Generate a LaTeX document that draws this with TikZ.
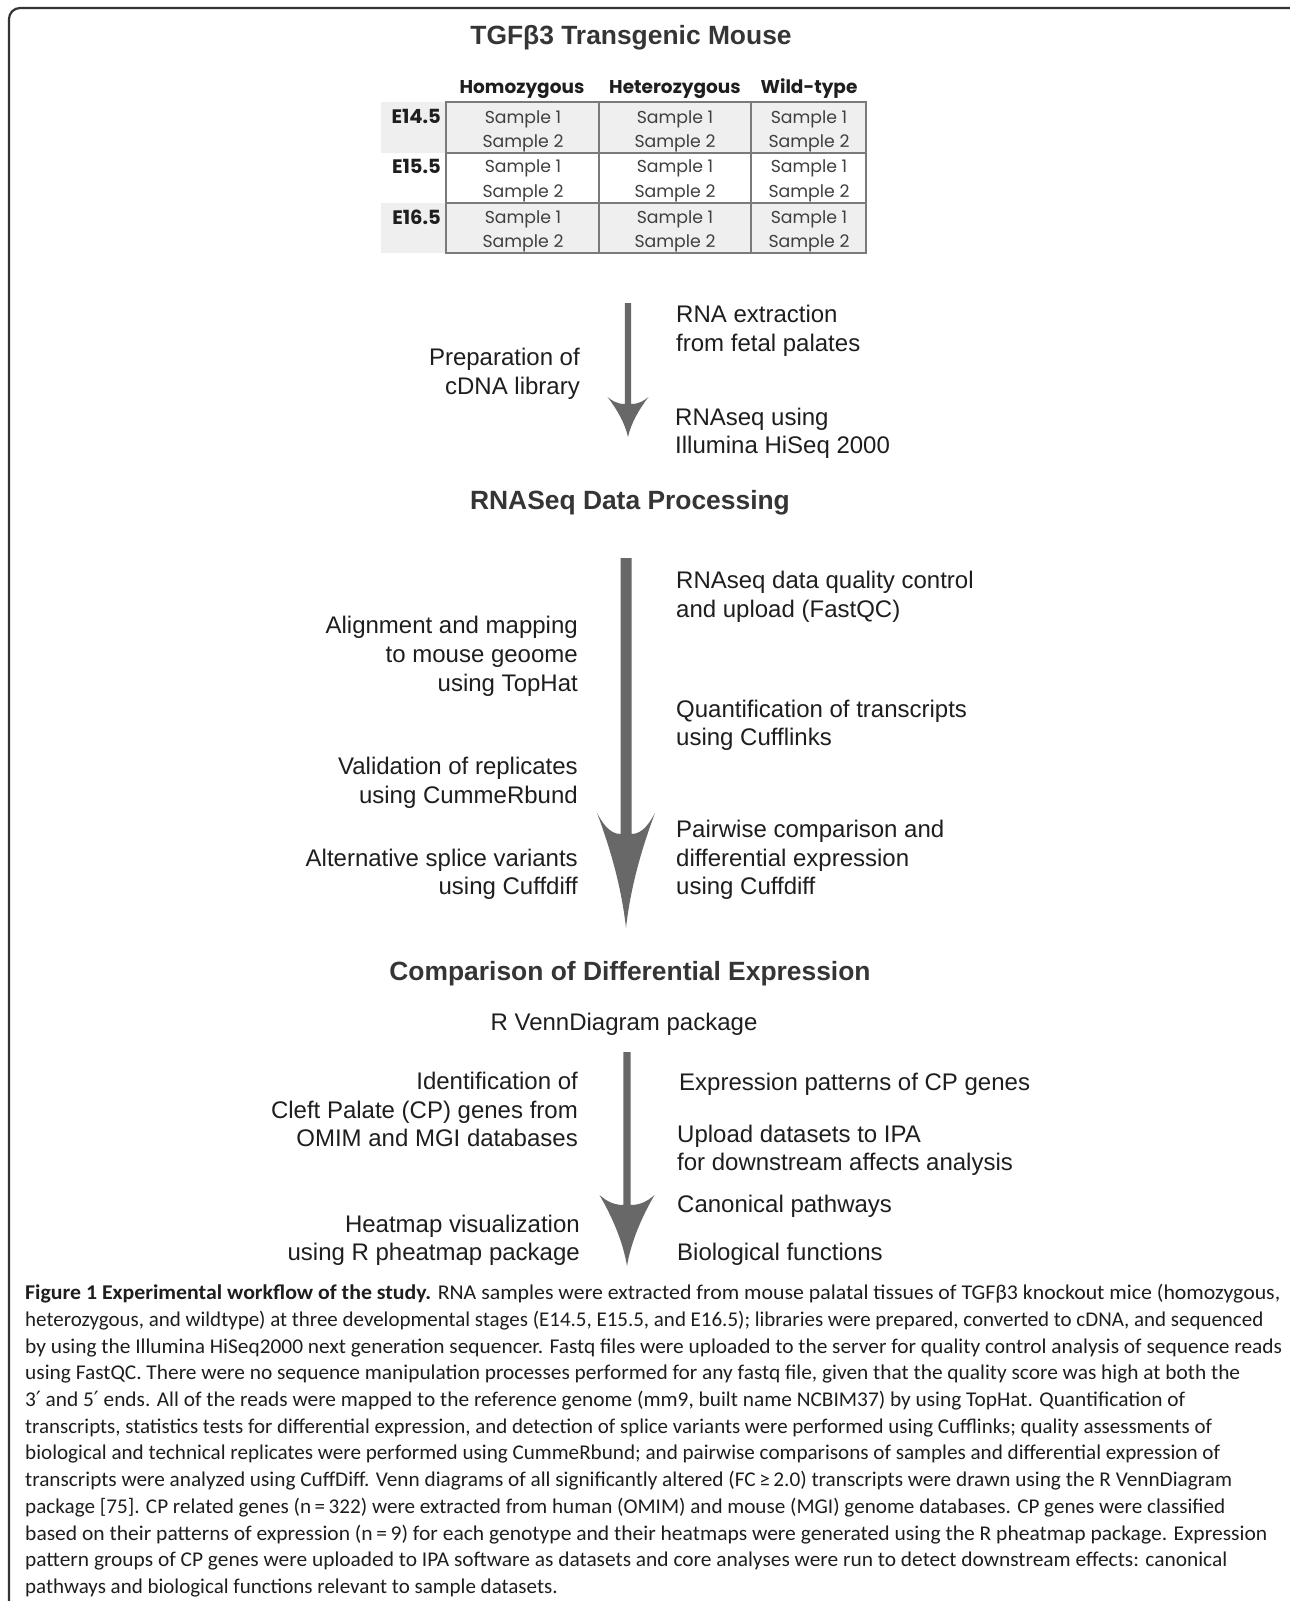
\documentclass[tikz,border=0pt]{standalone}
\usepackage{fontspec}
\setmainfont{Liberation Sans}
\newfontfamily\tabfont{Poppins}
\newfontfamily\capfont{Carlito}
\newfontfamily\primefont{DejaVu Sans}
\definecolor{ink}{HTML}{1E1E1E}
\definecolor{arrowgray}{HTML}{686868}
\definecolor{cellgray}{HTML}{EFEFEF}
\definecolor{gridgray}{HTML}{7A7A7A}
\newcommand{\fatarrow}[7]{% #1 cx, #2 top, #3 shaft half width, #4 barb y, #5 join y, #6 tip y, #7 head half width
  \fill[arrowgray] (#1-#3,#2) -- (#1+#3,#2) -- (#1+#3,#5)
    .. controls (#1+#3+0.5*#7-0.5*#3,#5) and (#1+0.8*#7+0.2*#3,#4+0.4*#5-0.4*#4) .. (#1+#7,#4)
    .. controls (#1+0.55*#7,#4+0.3*#6-0.3*#4) and (#1+0.15*#7,#6-0.35*#6+0.35*#4) .. (#1,#6)
    .. controls (#1-0.15*#7,#6-0.35*#6+0.35*#4) and (#1-0.55*#7,#4+0.3*#6-0.3*#4) .. (#1-#7,#4)
    .. controls (#1-0.8*#7-0.2*#3,#4+0.4*#5-0.4*#4) and (#1-#3-0.5*#7+0.5*#3,#5) .. (#1-#3,#5)
    -- cycle;}
\newcommand{\capline}[2]{\resizebox{#1pt}{\height}{#2}}
\newcommand{\prm}{{\primefont ′}}
\begin{document}
\begin{tikzpicture}[x=1pt,y=-1pt,
  txt/.style={inner sep=0pt, text=ink, font=\fontsize{24}{28}\selectfont, text height=17.2pt, text depth=0pt},
  lt/.style={txt, anchor=east},
  rt/.style={txt, anchor=west},
  hd/.style={inner sep=0pt, text=ink!90!white, font=\bfseries\fontsize{26.4}{30}\selectfont, text height=19pt, text depth=0pt},
  th/.style={inner sep=0pt, text=ink, font=\tabfont\bfseries\fontsize{18.5}{22}\selectfont, text height=12.8pt, text depth=0pt},
  rl/.style={inner sep=0pt, text=ink, anchor=east, font=\tabfont\bfseries\fontsize{19.5}{22}\selectfont, text height=13.5pt, text depth=0pt},
  tc/.style={inner sep=0pt, text=ink!85!white, font=\tabfont\fontsize{17.3}{20}\selectfont, text height=12pt, text depth=0pt},
  captxt/.style={inner sep=0pt, anchor=west, text=ink, font=\capfont\fontsize{21}{24}\selectfont, text height=13.5pt, text depth=0pt},
  framestyle/.style={draw=ink!90!white, line width=2.2pt, rounded corners=11pt},
  tabgrid/.style={draw=gridgray, line width=1.4pt}
]
\useasboundingbox (0,0) rectangle (1290,1601);
\fill[white] (0,0) rectangle (1290,1601);
% frame
\draw[framestyle] (9,1601) -- (9,8) -- (1290,8);

% ---------- title and table ----------
\node[hd] (title) at (631,35) {TGFβ3 Transgenic Mouse};

\fill[cellgray] (381,102) rectangle (866,153);
\fill[cellgray] (381,203) rectangle (866,253);
\draw[tabgrid] (446,102) rectangle (866,253);
\draw[tabgrid] (599,102) -- (599,253);
\draw[tabgrid] (751,102) -- (751,253);
\draw[tabgrid] (446,153) -- (866,153);
\draw[tabgrid] (446,203) -- (866,203);

\node[th] (hhom) at (522,87) {Homozygous};
\node[th] (hhet) at (675,87) {Heterozygous};
\node[th] (hwt)  at (809,87) {Wild-type};

\node[rl] (e145) at (441,117) {E14.5};
\node[rl] (e155) at (441,167) {E15.5};
\node[rl] (e165) at (441,218) {E16.5};

\foreach \r/\ya/\yb in {1/117/141, 2/166/191, 3/217/241} {
  \foreach \c/\xx in {1/523, 2/675, 3/809} {
    \node[tc] (s\r\c a) at (\xx,\ya) {Sample 1};
    \node[tc] (s\r\c b) at (\xx,\yb) {Sample 2};
  }
}

% ---------- arrow 1 ----------
\coordinate (a1top) at (628,303);
\coordinate (a1tip) at (628,437);
\fatarrow{628}{303}{3.2}{397}{404}{437}{20.5}

\node[lt] (prep1) at (580,357) {Preparation of};
\node[lt] (prep2) at (580,386) {cDNA library};
\node[rt] (rna1) at (676,314) {RNA extraction};
\node[rt] (rna2) at (676,343) {from fetal palates};
\node[rt] (seq1) at (675,417) {RNAseq using};
\node[rt] (seq2) at (675,445) {Illumina HiSeq 2000};

\node[hd] (proc) at (630,500) {RNASeq Data Processing};

% ---------- arrow 2 ----------
\coordinate (a2top) at (626,558);
\coordinate (a2tip) at (626,928);
\fatarrow{626}{558}{5.5}{813}{834}{928}{29}

\node[rt] (qc1) at (676,580) {RNAseq data quality control};
\node[rt] (qc2) at (676,609) {and upload (FastQC)};
\node[lt] (al1) at (578,625) {Alignment and mapping};
\node[lt] (al2) at (578,654) {to mouse geoome};
\node[lt] (al3) at (578,683) {using TopHat};
\node[rt] (qu1) at (676,709) {Quantification of transcripts};
\node[rt] (qu2) at (676,737) {using Cufflinks};
\node[lt] (va1) at (578,766) {Validation of replicates};
\node[lt] (va2) at (578,795) {using CummeRbund};
\node[rt] (pw1) at (676,829) {Pairwise comparison and};
\node[rt] (pw2) at (676,858) {differential expression};
\node[rt] (pw3) at (676,886) {using Cuffdiff};
\node[lt] (sp1) at (578,858) {Alternative splice variants};
\node[lt] (sp2) at (578,886) {using Cuffdiff};

\node[hd] (comp) at (630,971) {Comparison of Differential Expression};
\node[txt] (venn) at (624,1022) {R VennDiagram package};

% ---------- arrow 3 ----------
\coordinate (a3top) at (627,1052);
\coordinate (a3tip) at (627,1266);
\fatarrow{627}{1052}{3.7}{1195}{1205}{1266}{27.5}

\node[lt] (id1) at (578,1081) {Identification of};
\node[lt] (id2) at (578,1110) {Cleft Palate (CP) genes from};
\node[lt] (id3) at (578,1138) {OMIM and MGI databases};
\node[lt] (hm1) at (580,1224) {Heatmap visualization};
\node[lt] (hm2) at (580,1252) {using R pheatmap package};
\node[rt] (ex1) at (679,1082) {Expression patterns of CP genes};
\node[rt] (up1) at (677,1134) {Upload datasets to IPA};
\node[rt] (up2) at (677,1162) {for downstream affects analysis};
\node[rt] (can) at (677,1204) {Canonical pathways};
\node[rt] (bio) at (677,1252) {Biological functions};

% ---------- caption ----------
\node[captxt] (cap1) at (25,1293.0) {\capline{1255}{\textbf{Figure 1 Experimental workflow of the study.} RNA samples were extracted from mouse palatal tissues of TGFβ3 knockout mice (homozygous,}};
\node[captxt] (cap2) at (25,1319.7) {\capline{1238}{heterozygous, and wildtype) at three developmental stages (E14.5, E15.5, and E16.5); libraries were prepared, converted to cDNA, and sequenced}};
\node[captxt] (cap3) at (25,1346.4) {\capline{1257}{by using the Illumina HiSeq2000 next generation sequencer. Fastq files were uploaded to the server for quality control analysis of sequence reads}};
\node[captxt] (cap4) at (25,1373.1) {\capline{1215}{using FastQC. There were no sequence manipulation processes performed for any fastq file, given that the quality score was high at both the}};
\node[captxt] (cap5) at (25,1399.8) {\capline{1160}{3\prm{} and 5\prm{} ends. All of the reads were mapped to the reference genome (mm9, built name NCBIM37) by using TopHat. Quantification of}};
\node[captxt] (cap6) at (25,1426.5) {\capline{1187}{transcripts, statistics tests for differential expression, and detection of splice variants were performed using Cufflinks; quality assessments of}};
\node[captxt] (cap7) at (25,1453.2) {\capline{1195}{biological and technical replicates were performed using CummeRbund; and pairwise comparisons of samples and differential expression of}};
\node[captxt] (cap8) at (25,1479.9) {\capline{1207}{transcripts were analyzed using CuffDiff. Venn diagrams of all significantly altered (FC\,≥\,2.0) transcripts were drawn using the R VennDiagram}};
\node[captxt] (cap9) at (25,1506.6) {\capline{1200}{package [75]. CP related genes (n\,=\,322) were extracted from human (OMIM) and mouse (MGI) genome databases. CP genes were classified}};
\node[captxt] (cap10) at (25,1533.3) {\capline{1242}{based on their patterns of expression (n\,=\,9) for each genotype and their heatmaps were generated using the R pheatmap package. Expression}};
\node[captxt] (cap11) at (25,1560.0) {\capline{1202}{pattern groups of CP genes were uploaded to IPA software as datasets and core analyses were run to detect downstream effects: canonical}};
\node[captxt] (cap12) at (25,1586.7) {pathways and biological functions relevant to sample datasets.};
\end{tikzpicture}
\end{document}
